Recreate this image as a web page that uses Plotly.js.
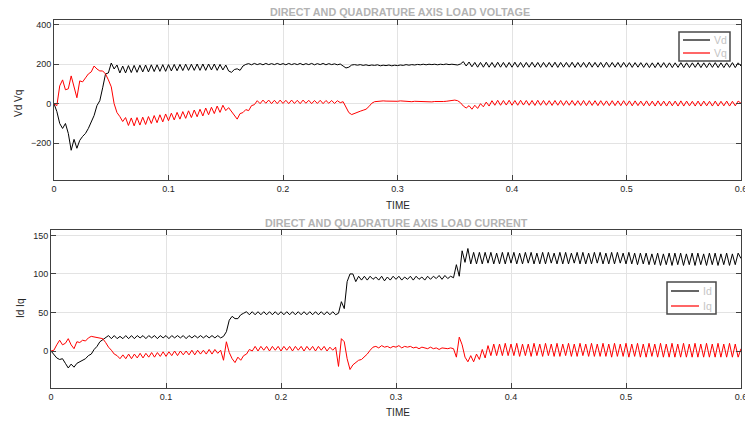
<!DOCTYPE html>
<html>
<head>
<meta charset="utf-8">
<script src="https://cdn.plot.ly/plotly-3.0.1.min.js"></script>
<style>html,body{margin:0;padding:0;background:#fff;}#chart{width:745px;height:421px;}</style>
</head>
<body>
<div id="chart"></div>
<script>
// sampling step of the recorded signals (s)
const timeStep = 0.0025;

// Top panel: direct / quadrature axis load voltage
const vd = [
0,-40,-100,-125,-100,-150,-235,-180,-225,-185,
-165,-150,-125,-90,-60,-10,15,80,150,155,
205,175,195,155,190,155,192,157,193,158,
194,160,195,160,196,162,196,163,197,163,
197,165,198,166,198,167,199,168,199,168,
200,168,200,168,200,170,200,168,198,170,
195,165,158,172,176,168,190,198,202,196,
203,197,202,196,203,197,202,197,203,197,
202,196,203,197,202,197,203,196,202,197,
203,196,202,197,203,196,202,197,201,196,
200,190,180,184,195,197,194,197,193,196,
192,195,193,196,191,194,192,195,191,194,
192,195,193,197,194,197,195,198,196,199,
196,199,197,199,196,199,197,200,197,199,
197,195,200,212,190,210,186,208,184,208,
184,209,184,208,183,209,184,208,183,208,
184,209,184,208,183,208,184,209,184,208,
183,208,184,208,184,209,183,208,184,208,
184,209,183,208,184,208,183,209,184,208,
184,208,183,209,184,208,184,208,183,208,
184,207,183,207,184,207,183,206,182,206,
182,207,183,207,182,206,182,206,183,207,
182,206,182,206,183,207,182,206,182,206,
183,207,182,206,182,206,183,207,182,206,
190];
const vq = [
0,-10,90,120,70,75,140,90,30,115,
110,130,150,160,190,175,165,165,150,120,
85,0,-45,-65,-90,-70,-110,-72,-112,-70,
-108,-68,-105,-65,-100,-60,-96,-56,-92,-52,
-86,-48,-82,-44,-78,-40,-74,-36,-70,-32,
-66,-28,-62,-22,-56,-18,-50,-12,-44,-8,
-35,-20,-40,-55,-78,-50,-45,-30,-35,-10,
-5,15,0,18,2,18,0,17,0,18,
1,17,0,18,1,17,0,18,2,17,
0,16,1,17,0,16,2,16,1,15,
5,10,-20,-45,-55,-48,-42,-38,-33,-28,
-15,2,10,12,11,14,13,12,14,13,
12,14,13,11,12,10,12,11,10,12,
11,10,9,11,10,9,11,12,14,16,
18,15,5,-12,-22,-10,-28,-8,-24,0,
-16,8,-12,15,-8,17,-8,16,-7,17,
-8,16,-8,17,-7,16,-8,16,-9,17,
-8,16,-8,15,-9,16,-8,16,-9,15,
-8,16,-9,15,-9,16,-10,15,-9,15,
-10,15,-9,14,-10,15,-10,14,-10,15,
-10,14,-11,14,-10,13,-11,14,-11,13,
-12,14,-11,13,-12,13,-11,13,-12,14,
-12,13,-11,12,-12,13,-12,13,-11,12,
-12,13,-12,12,-11,13,-12,12,-11,13,
2];

// Bottom panel: direct / quadrature axis load current
const id = [
0,-4,-9,-11,-10,-16,-22,-17,-21,-16,
-14,-12,-10,-6,-4,2,6,12,15,18,
20,16,20,16,19,16,20,16,20,16,
20,17,20,16,20,17,20,16,20,17,
20,16,20,17,20,17,20,16,20,17,
20,17,20,17,20,17,20,17,20,17,
19,25,40,45,42,42,47,49,51,47,
51,47,51,47,51,47,51,47,51,47,
51,47,51,47,51,47,51,47,51,47,
51,47,51,47,51,47,51,47,51,47,
49,64,55,90,100,100,90,97,92,97,
92,97,93,96,92,97,91,96,92,97,
93,97,92,96,93,97,92,97,93,96,
92,97,93,97,94,98,93,98,94,97,
95,112,97,130,115,133,113,128,113,128,
113,128,114,128,113,127,113,128,113,128,
114,128,113,127,113,128,114,128,113,127,
113,128,113,128,114,127,113,128,113,128,
113,127,114,128,113,128,113,127,113,128,
114,128,113,127,113,128,113,128,114,127,
113,128,113,127,112,127,113,127,112,126,
112,127,111,126,112,127,111,127,112,127,
111,126,112,127,111,127,112,126,111,127,
112,127,111,126,112,127,111,126,112,127,
120];
const iq = [
0,1,8,14,8,10,16,8,3,12,
11,14,13,17,19,18,18,16,16,11,
5,1,-4,-6,-10,-5,-10,-4,-10,-4,
-9,-3,-9,-3,-8,-2,-8,-2,-7,-1,
-7,-1,-6,0,-6,0,-5,0,-5,1,
-5,1,-4,1,-4,2,-4,2,-3,1,
-12,12,-2,-10,-15,-8,-12,-6,-4,2,
0,6,0,6,1,6,0,6,1,6,
0,6,1,6,0,6,1,6,0,6,
1,6,0,6,1,6,0,5,1,5,
-20,16,12,-10,-24,-18,-15,-12,-11,-8,
-4,1,5,6,4,7,5,6,4,6,
5,7,4,6,5,6,4,5,3,5,
4,3,5,3,4,2,4,3,3,4,
3,-8,18,8,-8,-14,-6,-14,-4,-11,
2,-9,7,-6,9,-6,9,-6,10,-6,
9,-6,10,-7,9,-6,9,-7,10,-6,
9,-7,10,-6,9,-7,10,-7,9,-6,
10,-7,9,-7,10,-6,9,-7,10,-7,
9,-7,10,-7,9,-8,10,-7,9,-7,
10,-8,9,-7,10,-8,9,-8,10,-7,
9,-8,10,-8,9,-8,10,-8,9,-8,
10,-8,9,-8,10,-8,9,-8,10,-8,
9,-8,10,-8,9,-8,10,-8,9,-8,
3];

const xTicks = [0, 0.1, 0.2, 0.3, 0.4, 0.5, 0.6];
const vTicks = [-200, 0, 200, 400];
const iTicks = [0, 50, 100, 150];
const titles = ['DIRECT AND QUADRATURE AXIS LOAD VOLTAGE', 'DIRECT AND QUADRATURE AXIS LOAD CURRENT'];
const xLabel = 'TIME';
const yLabels = ['Vd Vq', 'Id Iq'];
const names = ['Vd', 'Vq', 'Id', 'Iq'];
const colors = ['#000000', '#ff0000', '#000000', '#ff0000'];

const time = vd.map((_, i) => +(i * timeStep).toFixed(4));

const W = 745, H = 421;
const px = v => v / W, py = v => 1 - v / H;

const lineStyle = c => ({color: c, width: 1});
const traces = [
  {x: time, y: vd, name: names[0], type: 'scatter', mode: 'lines', line: lineStyle(colors[0]), xaxis: 'x', yaxis: 'y'},
  {x: time, y: vq, name: names[1], type: 'scatter', mode: 'lines', line: lineStyle(colors[1]), xaxis: 'x', yaxis: 'y'},
  {x: time, y: id, name: names[2], type: 'scatter', mode: 'lines', line: lineStyle(colors[2]), xaxis: 'x2', yaxis: 'y2'},
  {x: time, y: iq, name: names[3], type: 'scatter', mode: 'lines', line: lineStyle(colors[3]), xaxis: 'x2', yaxis: 'y2'}
];

const baseFamily = 'Liberation Sans, Arial, sans-serif';
const tickFont = {family: baseFamily, size: 9, color: '#262626'};
const axisCommon = {
  showline: true, linecolor: '#404040', linewidth: 1, mirror: 'ticks',
  ticks: 'inside', ticklen: 5, tickwidth: 1, tickcolor: '#404040',
  showgrid: true, gridcolor: '#e3e3e3', gridwidth: 1, zeroline: false,
  tickfont: tickFont, fixedrange: true, automargin: false,
  ticklabeloverflow: 'allow'
};

const annFont = {family: baseFamily, size: 10, color: '#262626'};
const titleFont = {family: baseFamily, size: 10.8, color: '#b3b3b3', weight: 'bold'};
const legendFont = {family: baseFamily, size: 10.5, color: '#c4c4c4'};

// Legend boxes (MATLAB style), drawn in paper space
function legendParts(box, entries) {
  const shapes = [{
    type: 'rect', xref: 'paper', yref: 'paper', layer: 'above',
    x0: px(box.x0), x1: px(box.x1), y0: py(box.y1), y1: py(box.y0),
    line: {color: '#4a4a4a', width: 1.5}, fillcolor: '#ffffff'
  }];
  const anns = [];
  entries.forEach(e => {
    shapes.push({type: 'line', xref: 'paper', yref: 'paper', layer: 'above',
      x0: px(box.lx0), x1: px(box.lx1), y0: py(e.y), y1: py(e.y),
      line: {color: e.color, width: 1.2}});
    anns.push({text: e.name, xref: 'paper', yref: 'paper', x: px(box.tx), y: py(e.y),
      showarrow: false, xanchor: 'left', yanchor: 'middle', font: legendFont});
  });
  return {shapes, anns};
}
const leg1 = legendParts({x0: 679, x1: 730, y0: 32, y1: 61, lx0: 683, lx1: 710, tx: 712},
  [{name: names[0], color: colors[0], y: 40}, {name: names[1], color: colors[1], y: 53}]);
const leg2 = legendParts({x0: 667, x1: 716, y0: 282, y1: 314, lx0: 671, lx1: 699, tx: 701},
  [{name: names[2], color: colors[2], y: 291}, {name: names[3], color: colors[3], y: 306}]);

const layout = {
  width: W, height: H,
  margin: {l: 0, r: 0, t: 0, b: 0},
  paper_bgcolor: '#ffffff', plot_bgcolor: '#ffffff',
  showlegend: false,
  xaxis: Object.assign({}, axisCommon, {domain: [px(54), px(741)], anchor: 'y', range: [0, 0.6], tickvals: xTicks}),
  yaxis: Object.assign({}, axisCommon, {domain: [py(180), py(20)], anchor: 'x', range: [-385, 422], tickvals: vTicks}),
  xaxis2: Object.assign({}, axisCommon, {domain: [px(51), px(741)], anchor: 'y2', range: [0, 0.6], tickvals: xTicks}),
  yaxis2: Object.assign({}, axisCommon, {domain: [py(388), py(230)], anchor: 'x2', range: [-48, 157], tickvals: iTicks}),
  shapes: leg1.shapes.concat(leg2.shapes),
  annotations: [
    {text: titles[0], xref: 'paper', yref: 'paper', x: px(400), y: py(12), showarrow: false, font: titleFont, xanchor: 'center', yanchor: 'middle'},
    {text: titles[1], xref: 'paper', yref: 'paper', x: px(396), y: py(222.5), showarrow: false, font: titleFont, xanchor: 'center', yanchor: 'middle'},
    {text: xLabel, xref: 'paper', yref: 'paper', x: px(398), y: py(205), showarrow: false, font: annFont, xanchor: 'center', yanchor: 'middle'},
    {text: xLabel, xref: 'paper', yref: 'paper', x: px(398), y: py(412.5), showarrow: false, font: annFont, xanchor: 'center', yanchor: 'middle'},
    {text: yLabels[0], xref: 'paper', yref: 'paper', x: px(19), y: py(104), showarrow: false, font: annFont, textangle: -90, xanchor: 'center', yanchor: 'middle'},
    {text: yLabels[1], xref: 'paper', yref: 'paper', x: px(20), y: py(309), showarrow: false, font: annFont, textangle: -90, xanchor: 'center', yanchor: 'middle'}
  ].concat(leg1.anns, leg2.anns)
};

Plotly.newPlot('chart', traces, layout, {displayModeBar: false, staticPlot: true});
</script>
</body>
</html>
